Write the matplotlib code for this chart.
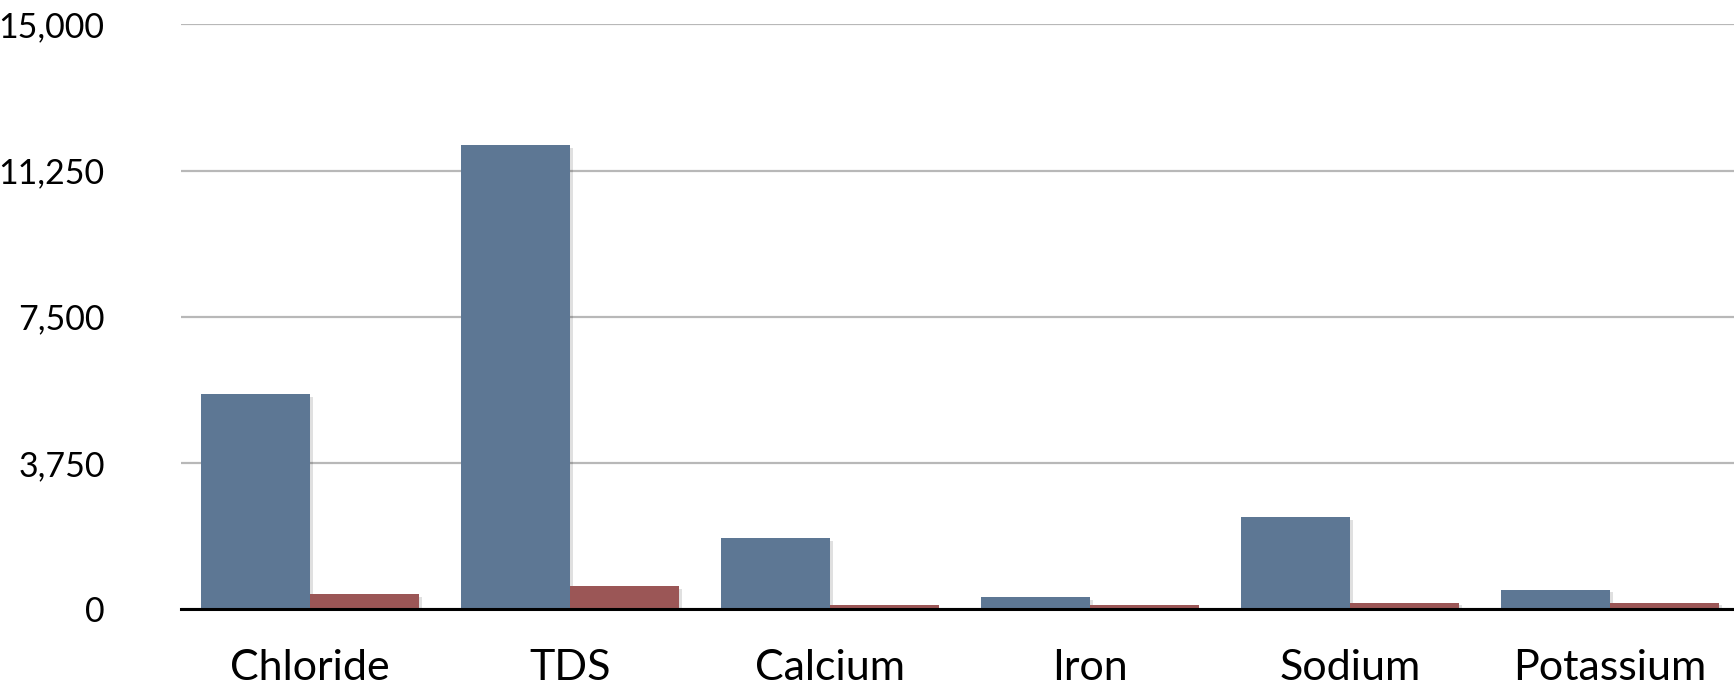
import matplotlib
matplotlib.use("Agg")
import matplotlib.pyplot as plt
import matplotlib.patheffects as pe
import numpy as np

categories = ["Chloride", "TDS", "Calcium", "Iron", "Sodium", "Potassium"]
series_a = [5520, 11900, 1820, 300, 2360, 500]
series_b = [380, 590, 90, 90, 165, 165]
yticks = [0, 3750, 7500, 11250, 15000]
ytick_labels = ["0", "3,750", "7,500", "11,250", "15,000"]

plt.rcParams['font.family'] = ['Lato', 'DejaVu Sans']

fig = plt.figure(figsize=(17.34, 6.9), dpi=100)
ax = fig.add_axes([0.1044, 0.1174, 0.8956, 0.8471])

x = np.arange(len(categories))
w = 0.42
shadow = [pe.SimplePatchShadow(offset=(2, -2), shadow_rgbFace='black', alpha=0.12), pe.Normal()]
ax.bar(x - w / 2, series_a, width=w, color="#5d7794", zorder=3, path_effects=shadow)
ax.bar(x + w / 2, series_b, width=w, color="#9b5656", zorder=3, path_effects=shadow)

ax.set_xlim(-0.497, 5.477)
ax.set_ylim(0, 15000)
ax.set_yticks(yticks)
ax.set_yticklabels(ytick_labels)
ax.set_xticks(x)
ax.set_xticklabels(categories)
ax.tick_params(axis='both', length=0, colors='black')
ax.tick_params(axis='y', pad=55, labelsize=24.5)
ax.tick_params(axis='x', pad=29, labelsize=31)

ax.yaxis.grid(True, color="#b8b8b8", linewidth=1.6, zorder=0)
ax.set_axisbelow(True)
for s in ["top", "right", "left"]:
    ax.spines[s].set_visible(False)
ax.spines["bottom"].set_color("black")
ax.spines["bottom"].set_linewidth(2.2)
ax.spines["bottom"].set_zorder(4)

fig.savefig("out.png", dpi=100, facecolor="white")
